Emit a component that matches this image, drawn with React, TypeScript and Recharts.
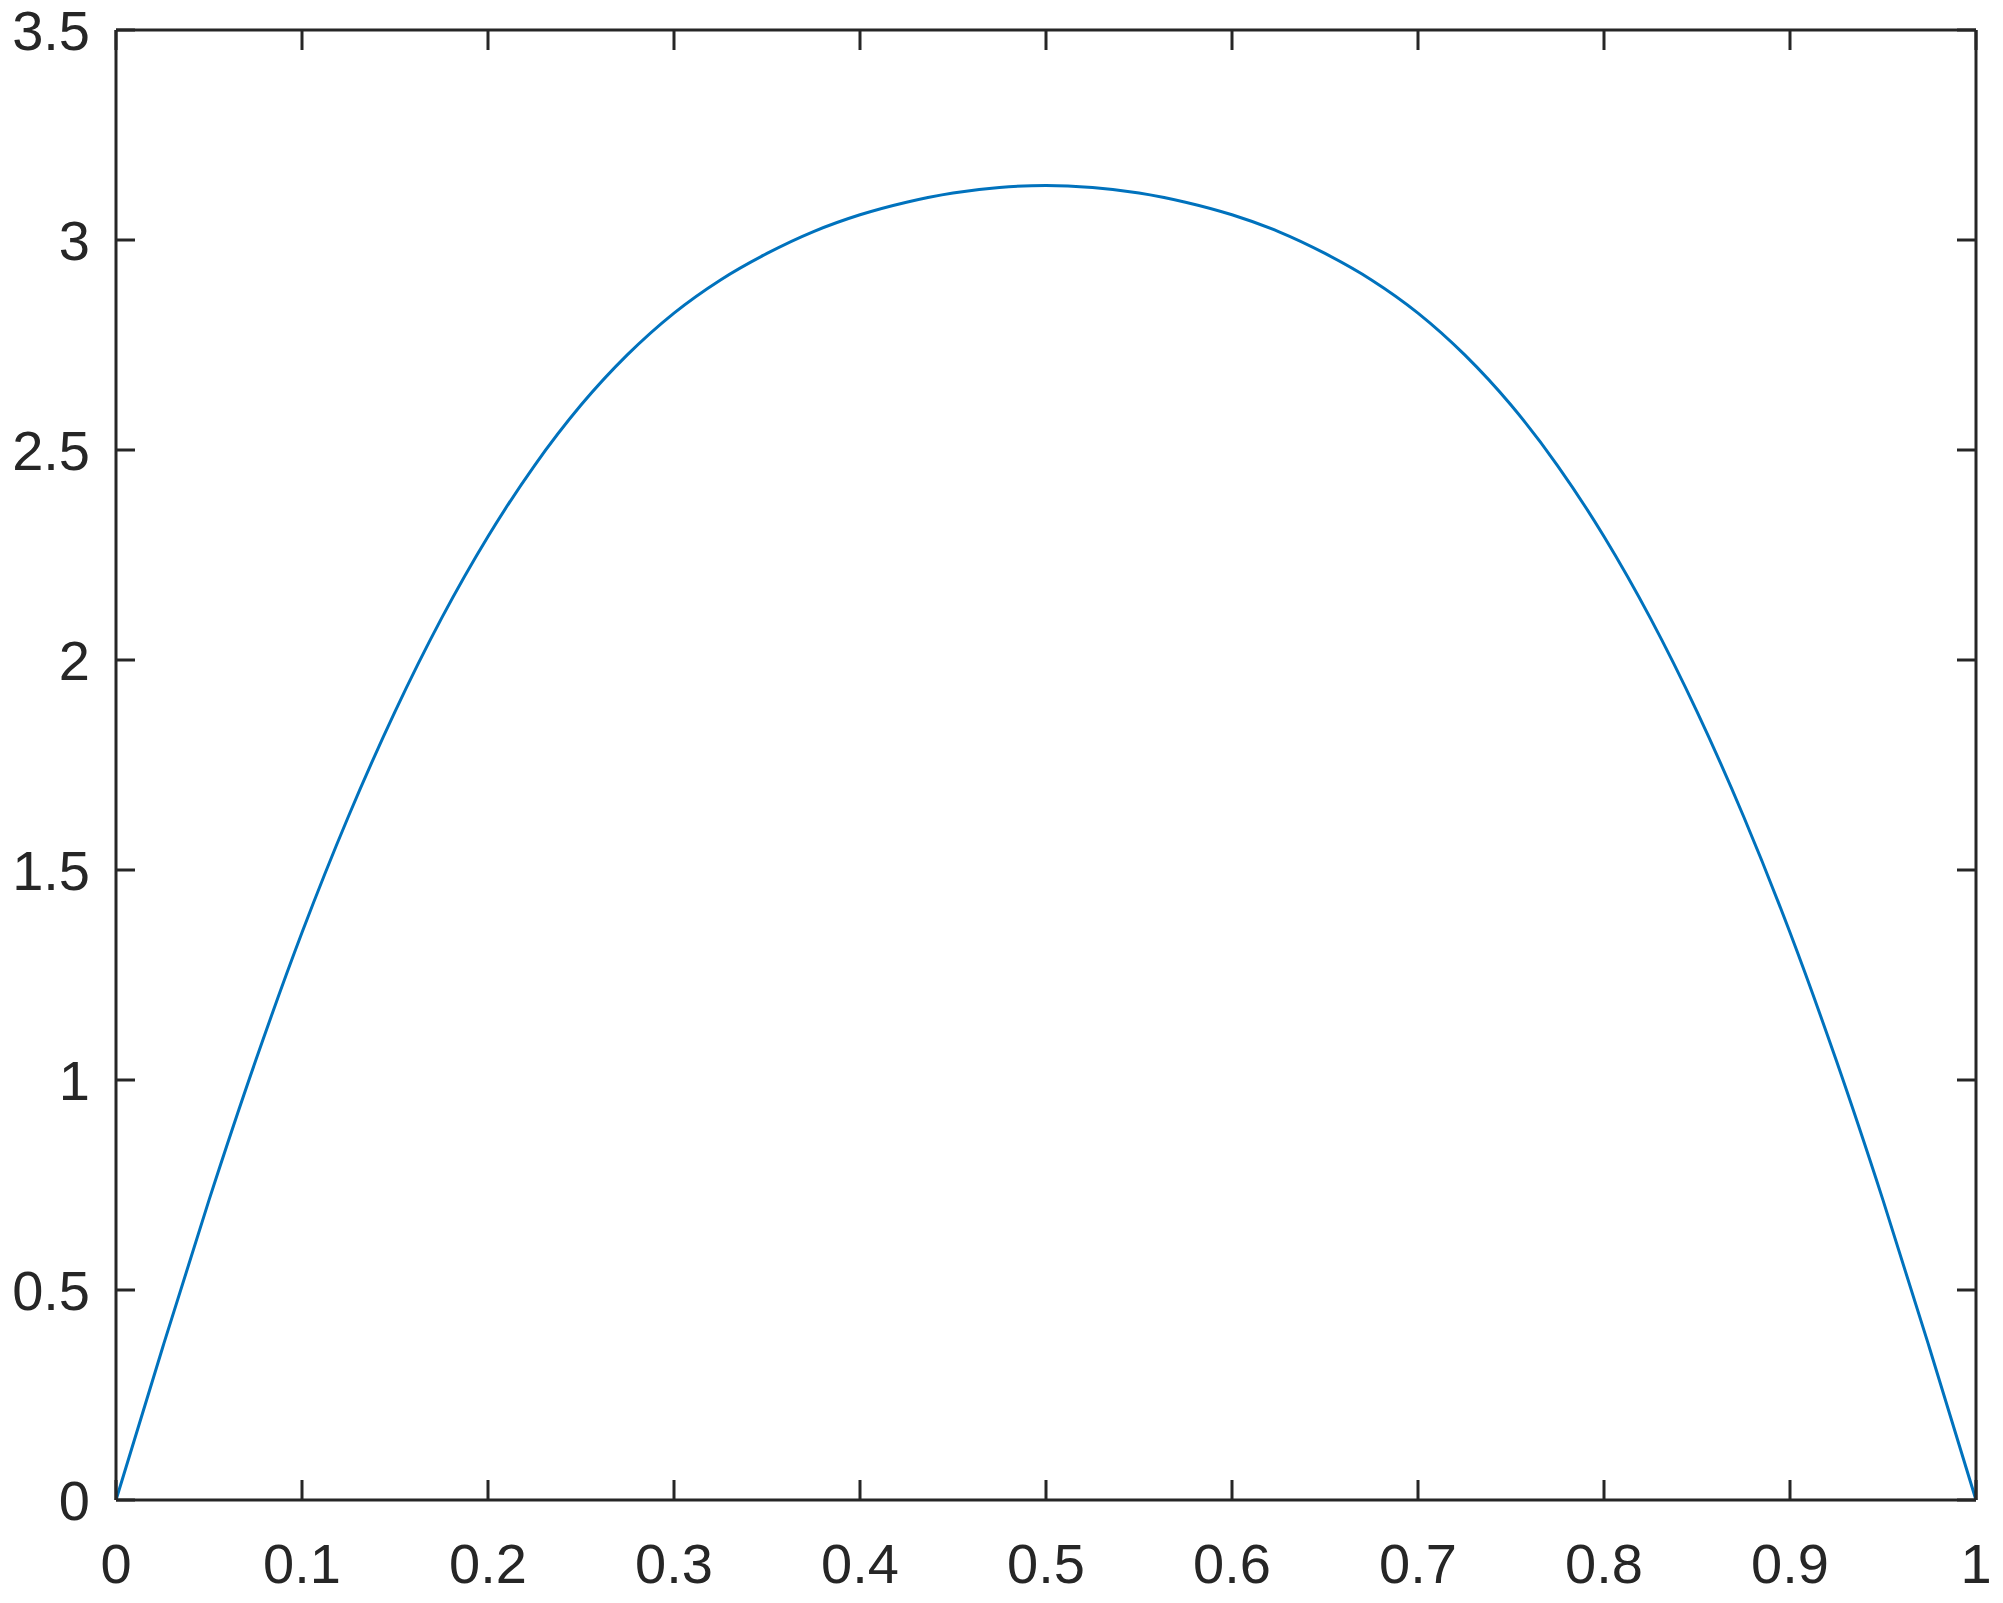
import { LineChart, Line, XAxis, YAxis } from 'recharts'

// values, x step 0.025
const xs = [
  0, 0.025, 0.05, 0.075, 0.1, 0.125, 0.15, 0.175, 0.2, 0.225,
  0.25, 0.275, 0.3, 0.325, 0.35, 0.375, 0.4, 0.425, 0.45, 0.475,
  0.5, 0.525, 0.55, 0.575, 0.6, 0.625, 0.65, 0.675, 0.7, 0.725,
  0.75, 0.775, 0.8, 0.825, 0.85, 0.875, 0.9, 0.925, 0.95, 0.975, 1,
]
const ys = [
  0, 0.362, 0.714, 1.045, 1.351, 1.628, 1.877, 2.099, 2.294, 2.463,
  2.607, 2.727, 2.826, 2.905, 2.968, 3.02, 3.06, 3.09, 3.112, 3.125,
  3.13, 3.125, 3.112, 3.09, 3.06, 3.02, 2.968, 2.905, 2.826, 2.727,
  2.607, 2.463, 2.294, 2.099, 1.877, 1.628, 1.351, 1.045, 0.714, 0.362, 0,
]

const xTicks = [0, 0.1, 0.2, 0.3, 0.4, 0.5, 0.6, 0.7, 0.8, 0.9, 1]
const yTicks = [0, 0.5, 1, 1.5, 2, 2.5, 3, 3.5]

const data = xs.map((x, i) => ({ x, y: ys[i] }))

const AXIS = '#262626'
const FONT = { fontSize: 56, fill: AXIS, fontFamily: '"Liberation Sans", Arial, sans-serif' }
const LINE_STYLE = { stroke: AXIS, strokeWidth: 3 }
const noLabel = () => <g />

export default function App() {
  return (
    <div style={{ position: 'absolute', left: 0, top: 0, background: '#fff' }}>
      <LineChart width={2003} height={1603} data={data} margin={{ top: 0, right: 0, left: 0, bottom: 0 }}>
        <XAxis
          dataKey="x"
          type="number"
          domain={[0, 1]}
          ticks={xTicks}
          height={103}
          axisLine={LINE_STYLE}
          tickLine={LINE_STYLE}
          tickSize={-20}
          tickMargin={63}
          tick={FONT}
          interval={0}
        />
        <XAxis
          xAxisId="top"
          dataKey="x"
          orientation="top"
          type="number"
          domain={[0, 1]}
          ticks={xTicks}
          height={30}
          axisLine={LINE_STYLE}
          tickLine={LINE_STYLE}
          tickSize={-20}
          tick={noLabel}
          interval={0}
        />
        <YAxis
          type="number"
          domain={[0, 3.5]}
          ticks={yTicks}
          width={116}
          axisLine={LINE_STYLE}
          tickLine={LINE_STYLE}
          tickSize={-19}
          tickMargin={45}
          tick={FONT}
          interval={0}
        />
        <YAxis
          yAxisId="right"
          orientation="right"
          type="number"
          domain={[0, 3.5]}
          ticks={yTicks}
          width={27}
          axisLine={LINE_STYLE}
          tickLine={LINE_STYLE}
          tickSize={-19}
          tick={noLabel}
          interval={0}
        />
        {/* invisible copy so the mirrored top/right axes get their scales */}
        <Line
          xAxisId="top"
          yAxisId="right"
          dataKey="y"
          stroke="none"
          dot={false}
          activeDot={false}
          isAnimationActive={false}
        />
        <Line
          dataKey="y"
          type="monotone"
          stroke="#0072BD"
          strokeWidth={3}
          dot={false}
          isAnimationActive={false}
        />
      </LineChart>
    </div>
  )
}
